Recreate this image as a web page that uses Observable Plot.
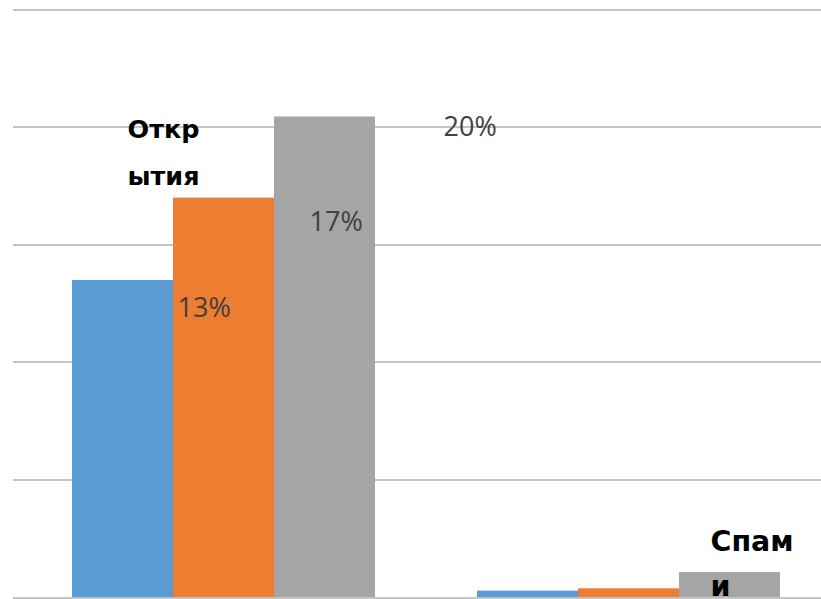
<!DOCTYPE html>
<html>
<head>
<meta charset="utf-8">
<script src="https://cdn.jsdelivr.net/npm/d3@7"></script>
<script src="https://cdn.jsdelivr.net/npm/@observablehq/plot@0.6"></script>
<style>
  html, body { margin: 0; padding: 0; background: #fff; overflow: hidden; }
  #chart svg { display: block; }
</style>
</head>
<body>
<div id="chart"></div>
<script>
const categories = ["Открытия", "Спам и"];
const series = ["Ряд 1", "Ряд 2", "Ряд 3"];
const colors = ["#5b9bd5", "#ed7d31", "#a5a5a5"];
const valuesOpen = [13.48, 16.98, 20.43];
const valuesSpam = [0.27, 0.37, 1.06];
const gridTicks = [0, 5, 10, 15, 20, 25];
const categoryLabels = ["Откр\nытия", "Спам\nи"];

const data = [];
series.forEach((s, i) => {
  data.push({cat: categories[0], series: s, value: valuesOpen[i]});
  data.push({cat: categories[1], series: s, value: valuesSpam[i]});
});
const fmt = v => Math.round(v) + "%";
const openData = data.filter(d => d.cat === categories[0]);

const labelFont = "'Liberation Sans Narrow', 'Open Sans', sans-serif";
const labelStyle = {fontSize: 27, fill: "#404040", fontFamily: labelFont, textAnchor: "start"};

const plot = Plot.plot({
  width: 821,
  height: 599,
  marginTop: 9,
  marginBottom: 2,
  marginLeft: 0,
  marginRight: 0,
  style: {background: "#ffffff"},
  fx: {domain: categories, range: [21, 831], paddingInner: 0.252, paddingOuter: 0.126, axis: null, label: null},
  x: {domain: series, padding: 0, axis: null},
  y: {domain: [0, 25], axis: null},
  color: {domain: series, range: colors},
  marks: [
    Plot.ruleY(gridTicks, {y: d => d, stroke: "#c4c4c4", strokeWidth: 2, insetLeft: -59, insetRight: -43, shapeRendering: "crispEdges"}),
    Plot.barY(data, {fx: "cat", x: "series", y: "value", fill: "series"}),
    Plot.text(openData.filter(d => d.series === series[0]), {fx: "cat", x: "series", y: "value", text: d => fmt(d.value), dx: 54.5, dy: 28.4, ...labelStyle}),
    Plot.text(openData.filter(d => d.series === series[1]), {fx: "cat", x: "series", y: "value", text: d => fmt(d.value), dx: 85.5, dy: 24.4, ...labelStyle}),
    Plot.text(openData.filter(d => d.series === series[2]), {fx: "cat", x: "series", y: "value", text: d => fmt(d.value), dx: 118.5, dy: 10.4, ...labelStyle}),
    Plot.text([{cat: categories[0], t: categoryLabels[0]}], {fx: "cat", text: "t", frameAnchor: "top-left", lineAnchor: "top", textAnchor: "start", dx: 55, dy: 95, fontSize: 25.5, fontWeight: "bold", lineHeight: 1.84, fill: "#000", fontFamily: "'DejaVu Sans', sans-serif"}),
    Plot.text([{cat: categories[1], t: categoryLabels[1]}], {fx: "cat", text: "t", frameAnchor: "top-left", lineAnchor: "top", textAnchor: "start", dx: 233, dy: 509, fontSize: 28.5, fontWeight: "bold", lineHeight: 1.6, fill: "#000", fontFamily: "'DejaVu Sans', sans-serif"})
  ]
});
document.getElementById("chart").appendChild(plot);
</script>
</body>
</html>
